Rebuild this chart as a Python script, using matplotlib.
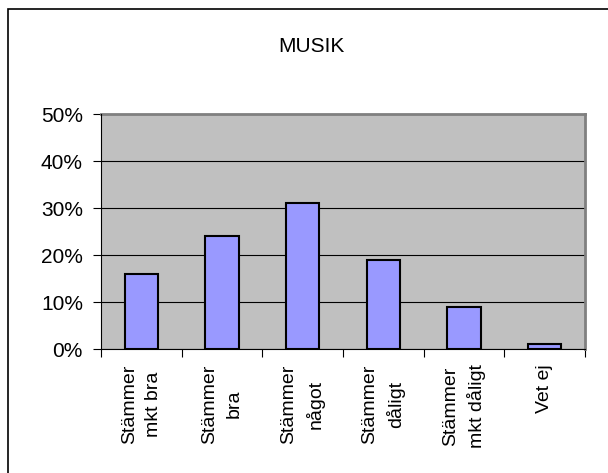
import numpy as np
import matplotlib.pyplot as plt
from matplotlib.patches import Rectangle
from matplotlib.ticker import FuncFormatter

plt.rcParams['font.family'] = ['Liberation Sans', 'DejaVu Sans']

# Data
kategorier = ['Stämmer\nmkt bra', 'Stämmer\nbra', 'Stämmer\nnågot',
              'Stämmer\ndåligt', 'Stämmer\nmkt dåligt', 'Vet ej']
andel = [0.16, 0.24, 0.31, 0.19, 0.09, 0.01]
yticks = [0.0, 0.1, 0.2, 0.3, 0.4, 0.5]

fig = plt.figure(figsize=(6.08, 4.73), dpi=100)
ax = fig.add_axes([101/608, 1 - 349/473, (585-101)/608, (349-114)/473])

x = np.arange(len(kategorier))
ax.set_facecolor('#C0C0C0')
ax.set_axisbelow(True)
ax.yaxis.grid(True, color='black', linewidth=0.8)
ax.bar(x, andel, width=0.41, color='#9999FF', edgecolor='black', linewidth=1.5, zorder=3)

ax.set_xlim(-0.5, len(kategorier) - 0.5)
ax.set_ylim(0, 0.5)
ax.set_yticks(yticks)
ax.yaxis.set_major_formatter(FuncFormatter(lambda v, p: f'{v*100:.0f}%'))
ax.tick_params(axis='y', length=6, width=0.8, pad=7, labelsize=15)

ax.set_xticks(x)
ax.set_xticklabels(kategorier, rotation=90, fontsize=14, va='top', ha='center',
                   multialignment='center', linespacing=1.55)
ax.tick_params(axis='x', which='major', length=0, pad=11)
ax.set_xticks(np.arange(-0.5, len(kategorier)), minor=True)
ax.tick_params(axis='x', which='minor', length=6, width=0.8)

for s in ['left', 'bottom']:
    ax.spines[s].set_color('black')
    ax.spines[s].set_linewidth(0.8)
for s in ['top', 'right']:
    ax.spines[s].set_color('#808080')
    ax.spines[s].set_linewidth(2)
ax.spines['left'].set_zorder(4)
ax.spines['bottom'].set_zorder(4)

fig.text(311/608, 1 - 46/473, 'MUSIK', ha='center', va='center', fontsize=15)

# outer chart border
fig.patches.append(Rectangle((8/608, -0.05), 1.0, 1 - 9/473 + 0.05,
                             transform=fig.transFigure, fill=False,
                             edgecolor='black', linewidth=1.2))

fig.savefig('out.png', dpi=100)
